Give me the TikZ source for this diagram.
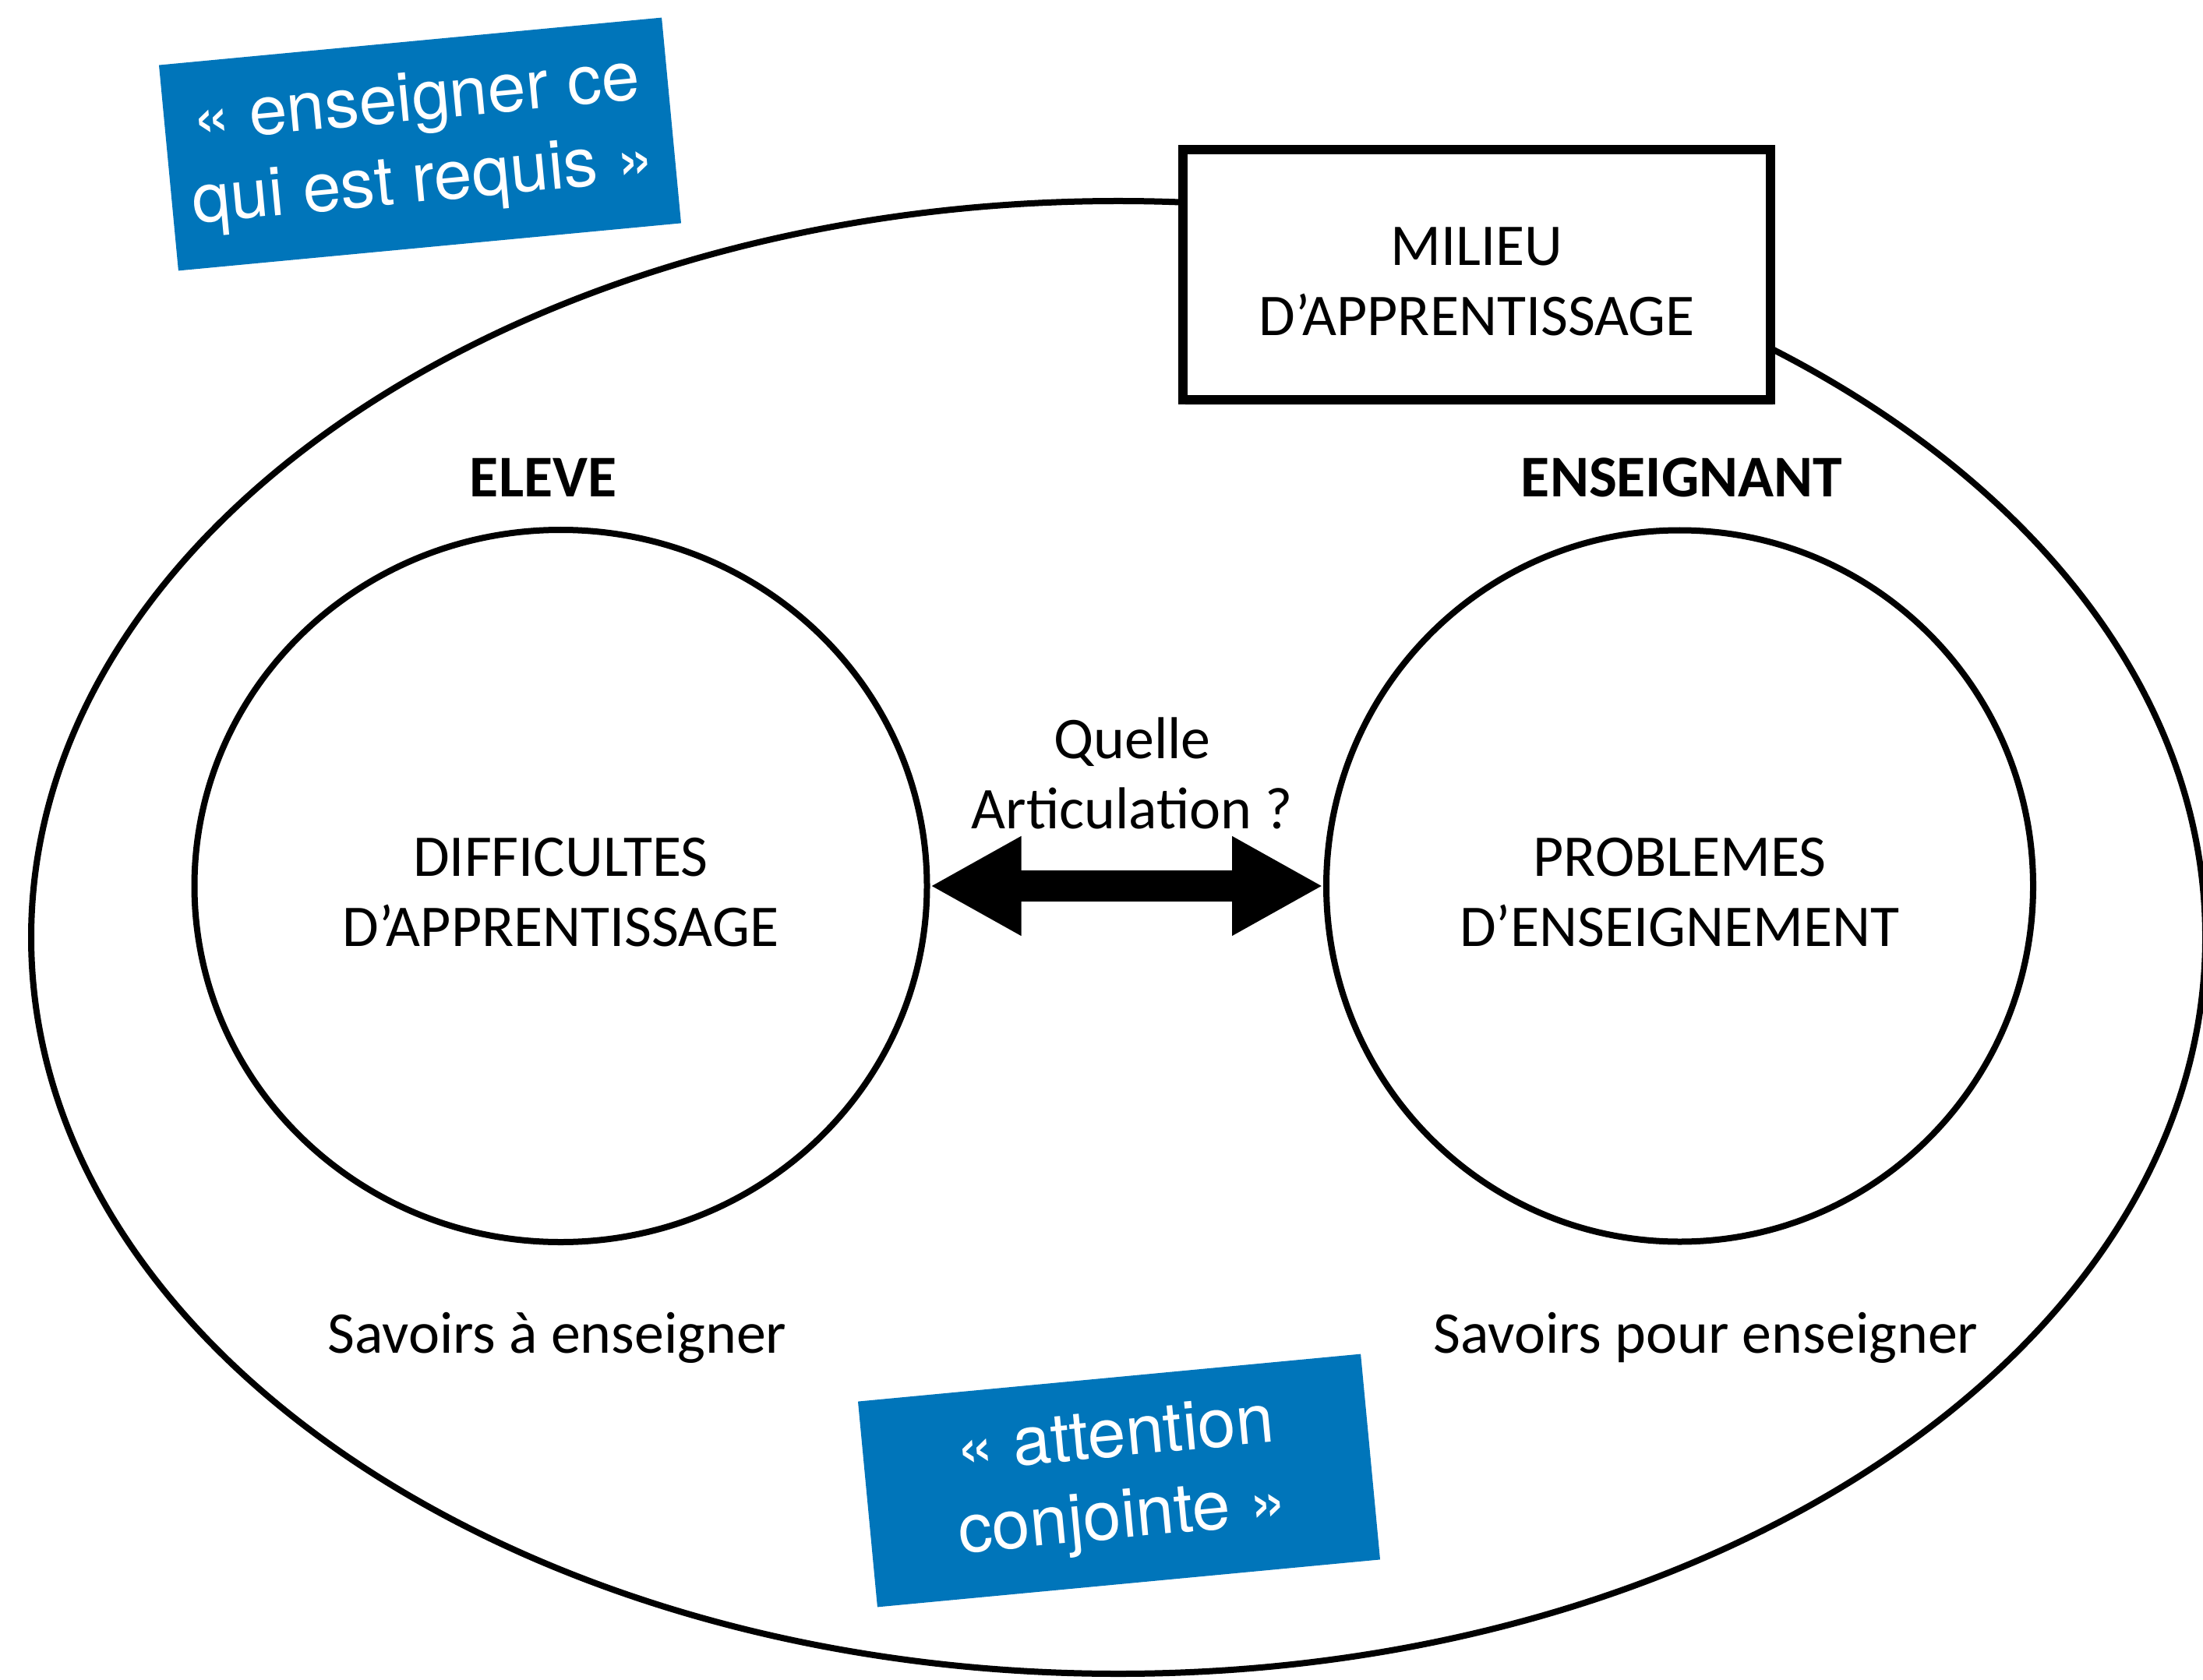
\documentclass[tikz,border=0pt]{standalone}
\usepackage{fontspec}
\setmainfont{Carlito}
\newfontfamily\heros{TeX Gyre Heros}
\usetikzlibrary{arrows.meta,shapes.geometric,shadows}
\definecolor{bulleblue}{RGB}{0,117,186}

\begin{document}
\begin{tikzpicture}[
    every node/.style={font=\fontsize{21.6pt}{25.6pt}\selectfont},
    trait/.style={line width=0.08cm},
    rond/.style={trait, draw, ellipse, align=center, inner sep=0pt},
    titre/.style={font=\bfseries\fontsize{21.6pt}{25.6pt}\selectfont},
    bulle/.style={fill=bulleblue, text=white, rotate=5.4, align=center,
      minimum width=6.48cm, minimum height=2.65cm,
      font=\heros\fontsize{25pt}{29.8pt}\selectfont},
    fleche/.style={line width=0.4cm,
      {Triangle[length=1.17cm,width=1.19cm]}-{Triangle[length=1.17cm,width=1.19cm]}}
  ]
  \useasboundingbox (0,0) rectangle (28.27,21.55);

  % le milieu
  \node[trait, draw, ellipse, inner sep=0pt, minimum width=27.9cm, minimum height=18.9cm] (milieu) at (14.35,9.52) {};
  \node[draw, line width=0.12cm, fill=white, align=center, minimum width=7.54cm, minimum height=3.21cm,
    drop shadow={shadow xshift=0.03cm, shadow yshift=-0.07cm, opacity=0.25}] (cadre) at (18.95,18.02)
    {\rule{0pt}{0.66cm}MILIEU\\D’APPRENTISSAGE};

  % eleve / enseignant
  \node[titre, anchor=base] (televe) at (6.97,15.17) {ELEVE};
  \node[titre, anchor=base] (tenseignant) at (21.58,15.17) {ENSEIGNANT};
  \node[rond, minimum width=9.4cm, minimum height=9.14cm] (eleve) at (7.195,10.18) {\rule{0pt}{0.66cm}DIFFICULTES\\D’APPRENTISSAGE};
  \node[rond, minimum width=9.07cm, minimum height=9.13cm] (enseignant) at (21.555,10.18) {\rule{0pt}{0.66cm}PROBLEMES\\D’ENSEIGNEMENT};

  \node[align=center] (articulation) at (14.53,11.63) {Quelle\\Articulation ?};
  \draw[fleche] (eleve.east) -- (enseignant.west);

  \node[anchor=base] (savoirsa) at (7.15,4.19) {Savoirs à enseigner};
  \node[anchor=base] (savoirsp) at (21.89,4.19) {Savoirs pour enseigner};

  % bulles
  \node[bulle] (requis) at (5.39,19.70) {« enseigner ce\\qui est requis »};
  \node[bulle] (conjointe) at (14.36,2.55) {« attention\\conjointe »};
\end{tikzpicture}
\end{document}
